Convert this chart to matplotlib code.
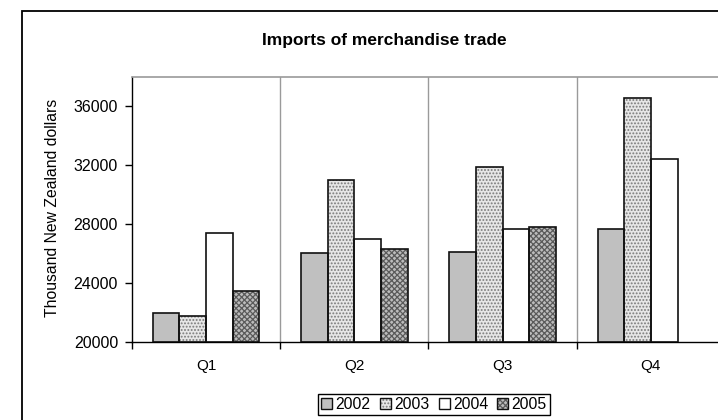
import numpy as np
import matplotlib
matplotlib.use("Agg")
import matplotlib.pyplot as plt
from matplotlib.patches import Rectangle, Patch
from matplotlib.legend_handler import HandlerTuple

quarters = ["Q1", "Q2", "Q3", "Q4"]
years = ["2002", "2003", "2004", "2005"]
v2002 = [21950, 26050, 26100, 27650]
v2003 = [21800, 31000, 31900, 36550]
v2004 = [27400, 27000, 27650, 32450]
v2005 = [23450, 26300, 27800, np.nan]
series = [v2002, v2003, v2004, v2005]
yticks = [20000, 24000, 28000, 32000, 36000]

plt.rcParams['font.family'] = ['Liberation Sans', 'DejaVu Sans']
plt.rcParams['hatch.linewidth'] = 0.9

W, H = 718, 420
fig = plt.figure(figsize=(W / 100, H / 100), dpi=100)

# chart area border
fig.patches.append(Rectangle((22 / W, -0.1), 1.2, 1 - 11 / H + 0.1,
                             transform=fig.transFigure, fill=False,
                             edgecolor='black', linewidth=1.3))

left, right, bottom, top = 132, 725, 342, 77
ax = fig.add_axes([left / W, 1 - bottom / H, (right - left) / W, (bottom - top) / H])

styles = [
    dict(face='#c0c0c0', hatch=None, hcolor=None),
    dict(face='#e6e6e6', hatch='.....', hcolor='#7a7a7a'),
    dict(face='#ffffff', hatch=None, hcolor=None),
    dict(face='#bcbcbc', hatch='xxxxxx', hcolor='#5a5a5a'),
]

bw = 0.18
x = np.arange(len(quarters))
handles = []
for i, (vals, st) in enumerate(zip(series, styles)):
    pos = x + 0.14 + bw * (i + 0.5)
    vals = np.array(vals, dtype=float)
    if st['hatch']:
        ax.bar(pos, vals - 20000, bw, bottom=20000, color=st['face'],
               hatch=st['hatch'], edgecolor=st['hcolor'], linewidth=0, zorder=2)
    else:
        ax.bar(pos, vals - 20000, bw, bottom=20000, color=st['face'],
               linewidth=0, zorder=2)
    ax.bar(pos, vals - 20000, bw, bottom=20000, fill=False,
           edgecolor='#111111', linewidth=1.2, zorder=3)
    if st['hatch']:
        h1 = Patch(facecolor=st['face'], hatch=st['hatch'], edgecolor=st['hcolor'], linewidth=0)
    else:
        h1 = Patch(facecolor=st['face'], linewidth=0)
    h2 = Patch(fill=False, edgecolor='#111111', linewidth=1.0)
    handles.append((h1, h2))

ax.set_xlim(0, 4)
ax.set_ylim(20000, 38000)
ax.set_yticks(yticks)
ax.set_yticklabels([str(t) for t in yticks], fontsize=11.5)
ax.set_xticks([0, 1, 2, 3, 4])
ax.set_xticklabels([])
ax.set_xticks(x + 0.5, minor=True)
ax.set_xticklabels(quarters, minor=True, fontsize=11)
ax.tick_params(axis='x', which='major', length=5, width=1, direction='out', color='black')
ax.tick_params(axis='x', which='minor', length=0, pad=12)
ax.tick_params(axis='y', length=5, width=1, direction='out', pad=5)

for b in [1, 2, 3]:
    ax.axvline(b, color='#9a9a9a', linewidth=1.0, zorder=1)

ax.spines['top'].set_color('#9a9a9a')
ax.spines['top'].set_linewidth(1.2)
ax.spines['right'].set_visible(False)
ax.spines['left'].set_color('black')
ax.spines['bottom'].set_color('black')
ax.spines['left'].set_linewidth(1.0)
ax.spines['bottom'].set_linewidth(1.0)

fig.text(384 / W, 1 - 40 / H, "Imports of merchandise trade", ha='center', va='center',
         fontsize=12.5, fontweight='bold')
fig.text(53 / W, 1 - 208 / H, "Thousand New Zealand dollars", ha='center', va='center',
         rotation=90, fontsize=11.3)

leg = fig.legend(handles, years, handler_map={tuple: HandlerTuple(ndivide=1)},
                 loc='center', bbox_to_anchor=(434 / W, 1 - 404.5 / H), ncol=4,
                 fontsize=11.3, frameon=True, fancybox=False, framealpha=1,
                 edgecolor='black', handlelength=0.7, handleheight=0.7,
                 handletextpad=0.2, columnspacing=0.6, borderpad=0.2,
                 borderaxespad=0)
leg.get_frame().set_linewidth(1.0)

fig.savefig("out.png", dpi=100)
